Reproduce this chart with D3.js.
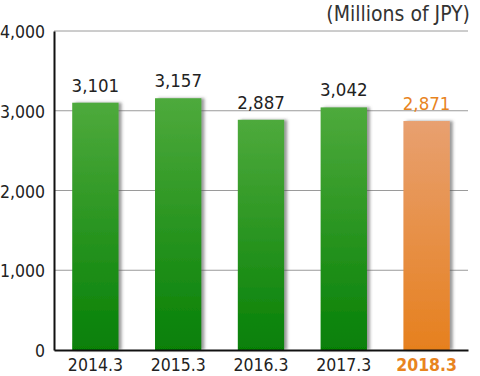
<!DOCTYPE html>
<html>
<head>
<meta charset="utf-8">
<script src="https://cdn.jsdelivr.net/npm/d3@7"></script>
<style>
  body { margin: 0; background: #fff; }
  text { font-family: "DejaVu Sans Condensed", "Liberation Sans Narrow", sans-serif; }
</style>
</head>
<body>
<div id="chart"></div>
<script>
// Data
const years = ["2014.3", "2015.3", "2016.3", "2017.3", "2018.3"];
const values = [3101, 3157, 2887, 3042, 2871];
const yTicks = [0, 1000, 2000, 3000, 4000];
const unitLabel = "(Millions of JPY)";

const width = 480;
const height = 376;
const margin = { top: 31, right: 12, bottom: 26, left: 54 };
const innerW = width - margin.left - margin.right;
const innerH = height - margin.top - margin.bottom;

const svg = d3.select("#chart")
    .append("svg")
    .attr("width", width)
    .attr("height", height);

// Gradients and shadow
const defs = svg.append("defs");
const grads = [
    { id: "gGreen", top: "#4eaa3c", bottom: "#068006" },
    { id: "gOrange", top: "#e8a070", bottom: "#e6801e" }
];
grads.forEach(g => {
    const lg = defs.append("linearGradient")
        .attr("id", g.id)
        .attr("x1", 0).attr("y1", 0).attr("x2", 0).attr("y2", 1);
    lg.append("stop").attr("offset", "0%").attr("stop-color", g.top);
    lg.append("stop").attr("offset", "100%").attr("stop-color", g.bottom);
});
const shadow = defs.append("filter").attr("id", "shadow")
    .attr("x", "-10%").attr("y", "-5%").attr("width", "130%").attr("height", "110%");
shadow.append("feDropShadow")
    .attr("dx", 3).attr("dy", 0).attr("stdDeviation", 1.5)
    .attr("flood-color", "#555").attr("flood-opacity", 0.6);

const g = svg.append("g")
    .attr("transform", `translate(${margin.left},${margin.top})`);

// Scales
const x = d3.scaleBand()
    .domain(years)
    .range([0, innerW])
    .paddingInner(0.44)
    .paddingOuter(0.22);

const y = d3.scaleLinear()
    .domain([0, 4000])
    .range([innerH, 0]);

// Grid lines
g.append("g")
    .selectAll("line")
    .data(yTicks.filter(d => d > 0))
    .enter()
    .append("line")
    .attr("x1", 0)
    .attr("x2", innerW)
    .attr("y1", d => y(d))
    .attr("y2", d => y(d))
    .attr("stroke", "#9a9a9a")
    .attr("stroke-width", 1);

// Bars
const isLast = i => i === years.length - 1;
g.selectAll("rect.bar")
    .data(values)
    .enter()
    .append("rect")
    .attr("class", "bar")
    .attr("x", (d, i) => x(years[i]))
    .attr("y", d => y(d))
    .attr("width", x.bandwidth())
    .attr("height", d => innerH - y(d))
    .attr("fill", (d, i) => isLast(i) ? "url(#gOrange)" : "url(#gGreen)")
    .attr("filter", "url(#shadow)");

// Value labels
g.selectAll("text.val")
    .data(values)
    .enter()
    .append("text")
    .attr("class", "val")
    .attr("x", (d, i) => x(years[i]) + x.bandwidth() / 2)
    .attr("y", d => y(d) - 11)
    .attr("text-anchor", "middle")
    .style("font-size", "18.5px")
    .attr("fill", (d, i) => isLast(i) ? "#e8841e" : "#222")
    .text(d => d3.format(",")(d));

// Y axis
const yAxis = g.append("g")
    .call(d3.axisLeft(y).tickValues(yTicks).tickFormat(d3.format(",")).tickSize(0).tickPadding(9));
yAxis.select(".domain").attr("stroke", "#111").attr("stroke-width", 2);
yAxis.selectAll("text")
    .style("font-size", "17.5px")
    .attr("fill", "#222")
    .attr("dy", "0.38em");

// X axis
const xAxis = g.append("g")
    .attr("transform", `translate(0,${innerH})`)
    .call(d3.axisBottom(x).tickSize(0).tickPadding(9));
xAxis.select(".domain").attr("stroke", "#111").attr("stroke-width", 2);
xAxis.selectAll("text")
    .style("font-size", "17.5px")
    .style("font-weight", (d, i) => isLast(i) ? "bold" : "normal")
    .attr("fill", (d, i) => isLast(i) ? "#e8841e" : "#222");

// Unit label
svg.append("text")
    .attr("x", width - 10)
    .attr("y", 21)
    .attr("text-anchor", "end")
    .style("font-size", "21px")
    .attr("fill", "#333")
    .text(unitLabel);
</script>
</body>
</html>
